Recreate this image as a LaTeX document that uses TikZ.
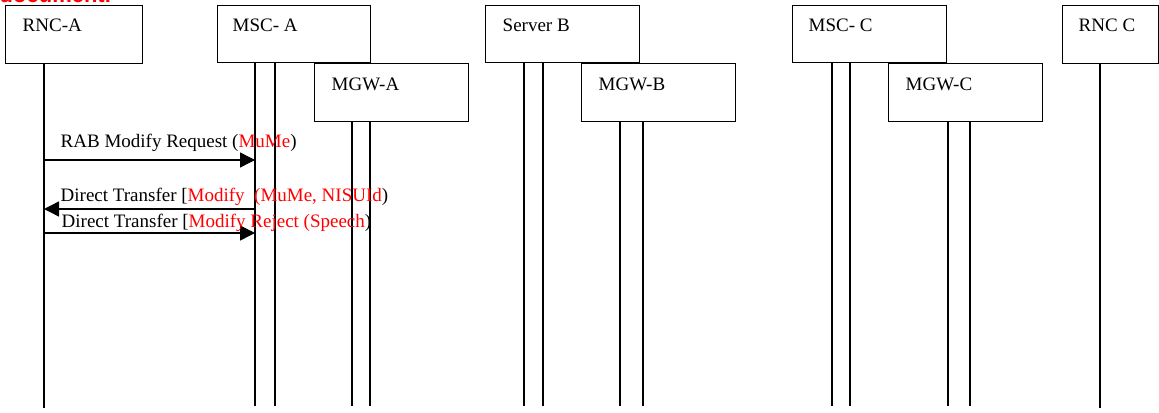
\documentclass[tikz,border=0pt]{standalone}
\usepackage{fontspec}
\setmainfont{Liberation Serif}
\newfontfamily\notefont{Liberation Sans}
\usetikzlibrary{arrows.meta}

\begin{document}
\begin{tikzpicture}[x=0.5pt,y=-0.5pt,line width=0.7pt,
    font=\fontsize{9.5}{11}\selectfont,
    box/.style={draw,rectangle,anchor=north west,inner sep=0pt},
    lbl/.style={anchor=base west,inner sep=0pt},
    msg/.style={-{Triangle[length=7.5pt,width=7.5pt]}},
    life/.style={line width=0.7pt}]

      \useasboundingbox (0,0) rectangle (1159,412);
      \clip (0,0) rectangle (1159,412);

      \node[lbl,text=red,font=\notefont\bfseries\fontsize{11}{13}\selectfont] (doc) at (-1,2.5) {document.};

      \node[box,minimum width=68.5pt,minimum height=29pt] (rnca) at (5,5) {};
      \node[lbl] () at ([shift={(17,27)}]rnca.north west) {RNC-A};
      \node[box,minimum width=76.5pt,minimum height=28.5pt] (msca) at (217,5) {};
      \node[lbl] () at ([shift={(15,27)}]msca.north west) {MSC- A};
      \node[box,minimum width=77pt,minimum height=29pt] (mgwa) at (314,63) {};
      \node[lbl] () at ([shift={(17,27)}]mgwa.north west) {MGW-A};
      \node[box,minimum width=77pt,minimum height=28.5pt] (serverb) at (485,5) {};
      \node[lbl] () at ([shift={(17,27)}]serverb.north west) {Server B};
      \node[box,minimum width=77pt,minimum height=29pt] (mgwb) at (581,63) {};
      \node[lbl] () at ([shift={(17,27)}]mgwb.north west) {MGW-B};
      \node[box,minimum width=77pt,minimum height=28.5pt] (mscc) at (792,5) {};
      \node[lbl] () at ([shift={(16,27)}]mscc.north west) {MSC- C};
      \node[box,minimum width=77pt,minimum height=29pt] (mgwc) at (888,63) {};
      \node[lbl] () at ([shift={(17,27)}]mgwc.north west) {MGW-C};
      \node[box,minimum width=48pt,minimum height=29pt] (rncc) at (1062,5) {};
      \node[lbl] () at ([shift={(16,27)}]rncc.north west) {RNC C};

      % lifeline ends
      \coordinate (rnca1) at (44,408);
      \coordinate (msca1) at (255,406);
      \coordinate (msca2) at (275,406);
      \coordinate (mgwa1) at (352,406);
      \coordinate (mgwa2) at (370,406);
      \coordinate (serverb1) at (524,406);
      \coordinate (serverb2) at (543,406);
      \coordinate (mgwb1) at (620,406);
      \coordinate (mgwb2) at (643,406);
      \coordinate (mscc1) at (832,406);
      \coordinate (mscc2) at (850,406);
      \coordinate (mgwc1) at (948,406);
      \coordinate (mgwc2) at (970,406);
      \coordinate (rncc1) at (1100,408);

      \draw[life] (rnca1 |- rnca.south) -- (rnca1);
      \draw[life] (msca1 |- msca.south) -- (msca1);
      \draw[life] (msca2 |- msca.south) -- (msca2);
      \draw[life] (mgwa1 |- mgwa.south) -- (mgwa1);
      \draw[life] (mgwa2 |- mgwa.south) -- (mgwa2);
      \draw[life] (serverb1 |- serverb.south) -- (serverb1);
      \draw[life] (serverb2 |- serverb.south) -- (serverb2);
      \draw[life] (mgwb1 |- mgwb.south) -- (mgwb1);
      \draw[life] (mgwb2 |- mgwb.south) -- (mgwb2);
      \draw[life] (mscc1 |- mscc.south) -- (mscc1);
      \draw[life] (mscc2 |- mscc.south) -- (mscc2);
      \draw[life] (mgwc1 |- mgwc.south) -- (mgwc1);
      \draw[life] (mgwc2 |- mgwc.south) -- (mgwc2);
      \draw[life] (rncc1 |- rncc.south) -- (rncc1);

      % messages
      \draw[msg] (rnca1 |- 0,160) -- (msca1 |- 0,160);
      \node[lbl] (m1) at (60,147) {RAB Modify Request (\textcolor{red}{MuMe})};
      \draw[msg] (msca1 |- 0,209) -- (rnca1 |- 0,209);
      \node[lbl] (m2) at (60,201) {Direct Transfer [\textcolor{red}{Modify\ \ (MuMe, NISUId})};
      \draw[msg] (rnca1 |- 0,233) -- (msca1 |- 0,233);
      \node[lbl] (m3) at (61,227.5) {Direct Transfer [\textcolor{red}{Modify Reject (Speech})};

    \end{tikzpicture}
\end{document}
